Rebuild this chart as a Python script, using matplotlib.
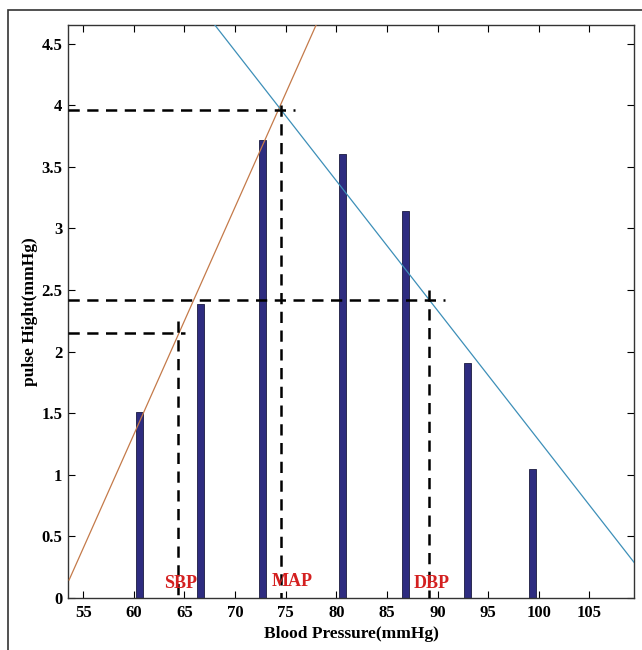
import numpy as np
import matplotlib.pyplot as plt
from matplotlib.patches import Rectangle

plt.rcParams['font.family'] = ['Liberation Serif', 'DejaVu Serif']

# pressure steps and pulse heights
pressure = [60.6, 66.6, 72.7, 80.6, 86.8, 93.0, 99.4]
height   = [1.51, 2.39, 3.72, 3.60, 3.14, 1.91, 1.05]

# rising / falling fitted lines (two end points each)
rise_x = [53.6, 78.0]
rise_y = [0.146, 4.65]
fall_x = [68.0, 109.4]
fall_y = [4.65, 0.29]

# marker points: (x, y) where the dashed guides meet
sbp_x, sbp_y = 64.4, 2.15
map_x, map_y = 74.5, 3.96
dbp_x, dbp_y = 89.2, 2.42

xticks = [55, 60, 65, 70, 75, 80, 85, 90, 95, 100, 105]
yticks = [0, 0.5, 1, 1.5, 2, 2.5, 3, 3.5, 4, 4.5]
ylabels = ['0', '0.5', '1', '1.5', '2', '2.5', '3', '3.5', '4', '4.5']

fig = plt.figure(figsize=(6.42, 6.5), dpi=100)
ax = fig.add_axes([0.106, 0.08, 0.8815, 0.8815])

# outer frame (only top and left edges visible)
fig.patches.append(Rectangle((8/642, -0.05), 1.1, 1.05 - 10/650, transform=fig.transFigure,
                             fill=False, edgecolor='#333333', linewidth=1.2))

ax.bar(pressure, height, width=0.7, color='#2e2c80', edgecolor='#1a1a40', linewidth=0.6, zorder=2)

ax.plot(rise_x, rise_y, color='#c47a4a', linewidth=0.9, zorder=3)
ax.plot(fall_x, fall_y, color='#3d8fb8', linewidth=0.9, zorder=3)

dash = dict(color='black', linestyle=(0, (4.5, 3)), linewidth=1.8, zorder=4)
xmin = 53.5
ax.plot([xmin, 65.1], [sbp_y, sbp_y], **dash)
ax.plot([sbp_x, sbp_x], [2.25, 0], **dash)
ax.plot([xmin, 75.9], [map_y, map_y], **dash)
ax.plot([map_x, map_x], [4.0, -0.03], **dash)
ax.plot([xmin, 90.7], [dbp_y, dbp_y], **dash)
ax.plot([dbp_x, dbp_x], [2.5, 0], **dash)

lab = dict(color='#d42020', fontsize=13, fontweight='bold', ha='center', va='center', zorder=5)
ax.text(64.6, 0.12, 'SBP', **lab)
ax.text(75.6, 0.13, 'MAP', **lab)
ax.text(89.4, 0.12, 'DBP', **lab)

ax.set_xlim(53.5, 109.4)
ax.set_ylim(0, 4.65)
ax.set_xticks(xticks)
ax.set_yticks(yticks)
ax.set_yticklabels(ylabels)
ax.tick_params(direction='in', top=True, right=True, length=5, width=0.8,
               labelsize=12)
ax.tick_params(axis='y', pad=4)
ax.tick_params(axis='x', pad=5)
for t in ax.get_xticklabels() + ax.get_yticklabels():
    t.set_fontweight('bold')
for s in ax.spines.values():
    s.set_linewidth(1.0)
    s.set_color('#333333')

ax.set_xlabel('Blood Pressure(mmHg)', fontsize=12.5, fontweight='bold', labelpad=4)
ax.set_ylabel('pulse Hight(mmHg)', fontsize=12.5, fontweight='bold')
ax.yaxis.set_label_coords(-0.053, 0.5)

plt.savefig('out.png', dpi=100)
